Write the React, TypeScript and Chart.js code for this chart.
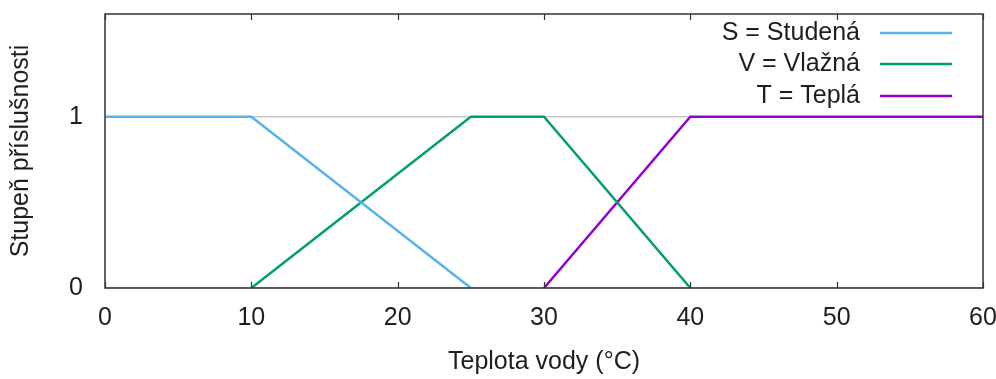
import React, { useEffect, useRef } from "react";
import { Chart, registerables } from "chart.js";

Chart.register(...registerables);

const xStudena = [0, 10, 25];
const yStudena = [1, 1, 0];
const xVlazna = [10, 25, 30, 40];
const yVlazna = [0, 1, 1, 0];
const xTepla = [30, 40, 60];
const yTepla = [0, 1, 1];
const seriesLabels = ["S = Studená", "V = Vlažná", "T = Teplá"];
const seriesColors = ["#56b4e9", "#009e73", "#9400d3"];
const xTicks = [0, 10, 20, 30, 40, 50, 60];
const yTicks = [0, 1];
const xTitle = "Teplota vody (°C)";
const yTitle = "Stupeň příslušnosti";

const FONT = "'Liberation Sans', Arial, sans-serif";
const TEXT = "#1e1e1e";
const FS = 25;

const pts = (xs: number[], ys: number[]) => xs.map((x, i) => ({ x, y: ys[i] }));

const framePlugin = {
  id: "frame",
  afterDatasetsDraw(chart: any) {
    const { ctx, chartArea: a, scales } = chart;
    ctx.save();
    ctx.strokeStyle = "#333333";
    ctx.lineWidth = 1.2;
    xTicks.forEach((v) => {
      const px = Math.round(scales.x.getPixelForValue(v)) + 0.5;
      ctx.beginPath();
      ctx.moveTo(px, a.bottom);
      ctx.lineTo(px, a.bottom - 6);
      ctx.moveTo(px, a.top);
      ctx.lineTo(px, a.top + 6);
      ctx.stroke();
    });
    ctx.lineWidth = 1.5;
    ctx.strokeRect(a.left, a.top, a.right - a.left, a.bottom - a.top);
    ctx.font = `${FS}px ${FONT}`;
    ctx.fillStyle = TEXT;
    ctx.textAlign = "right";
    ctx.textBaseline = "middle";
    const rows = [33, 64, 96];
    seriesLabels.forEach((lab, i) => {
      ctx.fillText(lab, 860, rows[i]);
      ctx.strokeStyle = seriesColors[i];
      ctx.lineWidth = 2.5;
      ctx.beginPath();
      ctx.moveTo(880, rows[i]);
      ctx.lineTo(952, rows[i]);
      ctx.stroke();
    });
    ctx.restore();
  },
};

export default function App() {
  const ref = useRef<HTMLCanvasElement>(null);
  useEffect(() => {
    if (!ref.current) return;
    const mk = (label: string, data: any, color: string) => ({
      label,
      data,
      borderColor: color,
      backgroundColor: color,
      borderWidth: 2.5,
      pointRadius: 0,
      tension: 0,
      fill: false,
    });
    const chart = new Chart(ref.current, {
      type: "line",
      data: {
        datasets: [
          mk(seriesLabels[0], pts(xStudena, yStudena), seriesColors[0]),
          mk(seriesLabels[1], pts(xVlazna, yVlazna), seriesColors[1]),
          mk(seriesLabels[2], pts(xTepla, yTepla), seriesColors[2]),
        ],
      },
      options: {
        animation: false,
        responsive: true,
        maintainAspectRatio: false,
        layout: { padding: { top: 14, right: 13, left: 0, bottom: 0 } },
        plugins: { legend: { display: false }, tooltip: { enabled: false } },
        scales: {
          x: {
            type: "linear",
            min: 0,
            max: 60,
            afterBuildTicks: (s: any) => {
              s.ticks = xTicks.map((v) => ({ value: v }));
            },
            afterFit: (s: any) => {
              s.height = 91;
              s.paddingLeft = 0;
              s.paddingRight = 0;
            },
            grid: { display: false, drawTicks: false },
            border: { display: false },
            ticks: { color: TEXT, font: { family: FONT, size: FS }, padding: 15, maxRotation: 0 },
            title: {
              display: true,
              text: xTitle,
              color: TEXT,
              font: { family: FONT, size: FS },
              padding: { top: 0, bottom: 2 },
            },
          },
          y: {
            type: "linear",
            min: 0,
            max: 1.6,
            afterBuildTicks: (s: any) => {
              s.ticks = yTicks.map((v) => ({ value: v }));
            },
            afterFit: (s: any) => {
              s.width = 105;
              s.paddingTop = 0;
              s.paddingBottom = 0;
            },
            grid: { display: true, drawTicks: false, color: "#c8c8c8", lineWidth: 1.5 },
            border: { display: false },
            ticks: { color: TEXT, font: { family: FONT, size: FS }, padding: 22 },
            title: {
              display: true,
              text: yTitle,
              color: TEXT,
              font: { family: FONT, size: FS },
              padding: { top: 6, bottom: 0 },
            },
          },
        },
      },
      plugins: [framePlugin],
    });
    return () => chart.destroy();
  }, []);
  return (
    <div style={{ position: "fixed", left: 0, top: 0, width: 996, height: 379, background: "#fff" }}>
      <canvas ref={ref} />
    </div>
  );
}
